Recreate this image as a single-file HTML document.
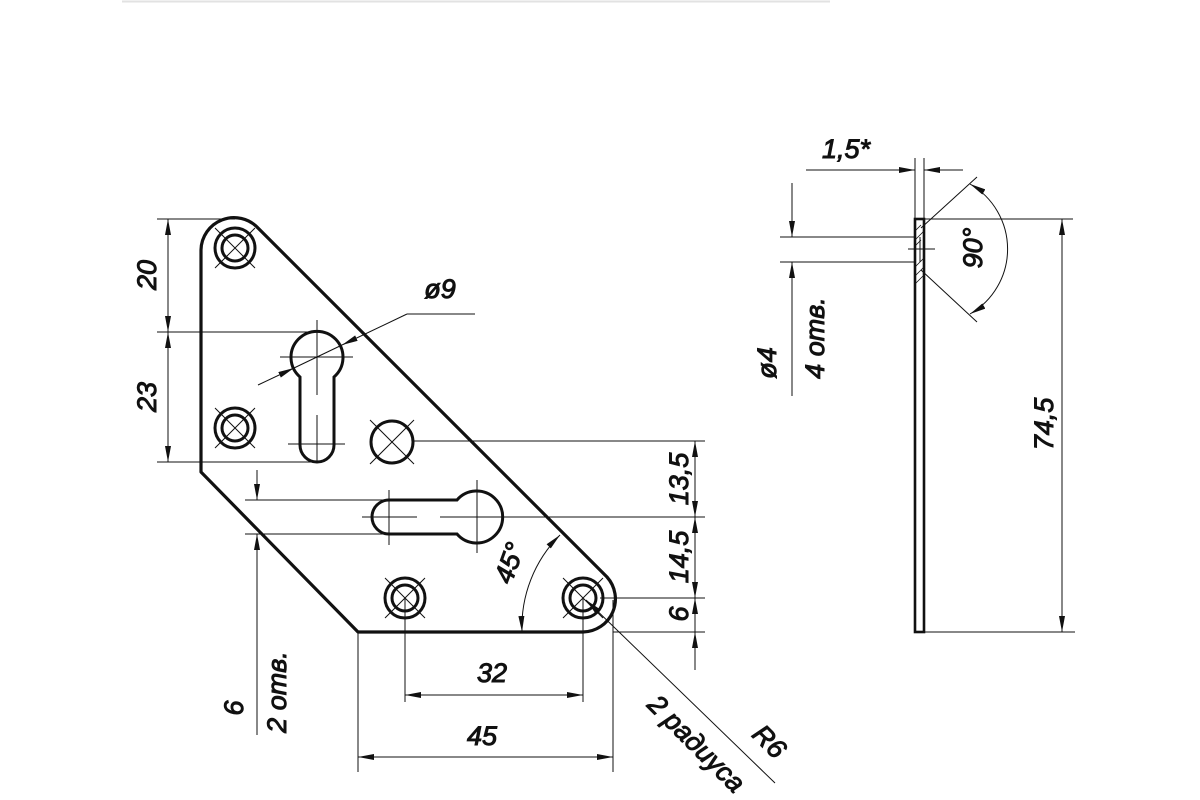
<!DOCTYPE html>
<html><head><meta charset="utf-8"><style>
html,body{margin:0;padding:0;background:#fff;}
svg{display:block}
text{font-family:"Liberation Sans","DejaVu Sans",sans-serif;font-style:italic;font-size:27px;fill:#111;}
</style></head><body>
<svg width="1200" height="800" viewBox="0 0 1200 800" xmlns="http://www.w3.org/2000/svg">
<defs>
<marker id="a" viewBox="0 0 16 6" refX="16" refY="3" markerWidth="16" markerHeight="6" markerUnits="userSpaceOnUse" orient="auto-start-reverse">
<path d="M0,0 L16,3 L0,6 Z" fill="#111"/></marker>
</defs>
<line x1="122" y1="1.5" x2="830" y2="1.5" stroke="#e2e2e2" stroke-width="2"/>
<g fill="none" stroke="#111">
<!-- plate outline -->
<path d="M201,250 A33,33 0 0 1 258,228 L607,577 A33,33 0 0 1 583,632 L358,632 L201,472 Z" stroke-width="3.2" stroke-linejoin="round"/>
<!-- keyholes -->
<path d="M300,377 A26,26 0 1 1 334,377 L334,445 A17,17 0 0 1 300,445 Z" stroke-width="3"/>
<path d="M457,500 A26,26 0 1 1 457,534 L389,534 A17,17 0 0 1 389,500 Z" stroke-width="3"/>
<!-- countersunk holes -->
<g stroke-width="3">
<circle cx="235" cy="248" r="20"/><circle cx="235" cy="248" r="13"/>
<circle cx="235" cy="428" r="20"/><circle cx="235" cy="428" r="13"/>
<circle cx="405" cy="598" r="20"/><circle cx="405" cy="598" r="13"/>
<circle cx="583" cy="598" r="20"/><circle cx="583" cy="598" r="13"/>
<circle cx="392" cy="442" r="21"/>
</g>
<g stroke-width="1">
<path d="M215,228 l40,40 M255,228 l-40,40"/>
<path d="M215,408 l40,40 M255,408 l-40,40"/>
<path d="M385,578 l40,40 M425,578 l-40,40"/>
<path d="M563,578 l40,40 M603,578 l-40,40"/>
<path d="M370,420 l44,44 M414,420 l-44,44"/>
<!-- keyhole centerlines -->
<path d="M317,320 V395 M317,415 V463 M280,357 H353 M288,444 H345"/>
<path d="M389,490 V545 M477,480 V553 M362,517 H417 M440,517 H705"/>
<!-- left dims 20 / 23 -->
<path d="M157,219 H235 M157,332 H317 M157,462 H317"/>
<line x1="168" y1="219" x2="168" y2="332" marker-start="url(#a)" marker-end="url(#a)"/>
<line x1="168" y1="332" x2="168" y2="462" marker-start="url(#a)" marker-end="url(#a)"/>
<!-- 6 / 2 отв -->
<path d="M245,500 H389 M245,534 H389"/>
<line x1="257" y1="470" x2="257" y2="500" marker-end="url(#a)"/>
<line x1="257" y1="735" x2="257" y2="534" marker-end="url(#a)"/>
<!-- right dims -->
<path d="M413,441 H705 M600,598 H705 M613,632 H705"/>
<line x1="695" y1="441" x2="695" y2="517" marker-start="url(#a)" marker-end="url(#a)"/>
<line x1="695" y1="517" x2="695" y2="598" marker-start="url(#a)" marker-end="url(#a)"/>
<line x1="695" y1="598" x2="695" y2="632" marker-start="url(#a)"/>
<line x1="695" y1="670" x2="695" y2="632" marker-end="url(#a)"/>
<!-- bottom dims -->
<path d="M358,632 V772 M405,598 V702 M583,598 V702 M613,600 V772"/>
<line x1="405" y1="695" x2="583" y2="695" marker-start="url(#a)" marker-end="url(#a)"/>
<line x1="358" y1="757" x2="613" y2="757" marker-start="url(#a)" marker-end="url(#a)"/>
<!-- phi9 leader -->
<line x1="258" y1="385" x2="294" y2="368" marker-end="url(#a)"/>
<line x1="407" y1="314" x2="342" y2="345" marker-end="url(#a)"/>
<path d="M294,368 L342,345 M407,314 H475"/>
<!-- 45 deg arc -->
<path d="M560,535 A130,130 0 0 0 522,632" marker-start="url(#a)" marker-end="url(#a)"/>
<!-- R6 leader -->
<line x1="775" y1="783" x2="586" y2="600" marker-end="url(#a)"/>
<!-- side view -->
<rect x="915" y="219" width="9" height="413" stroke-width="2.6"/>
<path d="M915,231 l6,-6 M915,240 l9,-9 M915,246 l6,-6 M915,267 l9,-9 M915,276 l9,-9 M915,284 l8,-8" stroke-width="0.8"/>
<path d="M915,237 V262 M920,237 V262" stroke-width="1"/>
<path d="M908,249 H935"/>
<path d="M915,158 V219 M924,158 V219"/>
<line x1="806" y1="170" x2="915" y2="170" marker-end="url(#a)"/>
<line x1="963" y1="170" x2="924" y2="170" marker-end="url(#a)"/>
<path d="M921,228 L977,177 M921,270 L977,322"/>
<path d="M970,184 A75,75 0 0 1 970,314" marker-start="url(#a)" marker-end="url(#a)"/>
<path d="M780,237 H915 M780,262 H915"/>
<line x1="792" y1="183" x2="792" y2="237" marker-end="url(#a)"/>
<line x1="792" y1="396" x2="792" y2="262" marker-end="url(#a)"/>
<path d="M924,219 H1073 M924,632 H1075"/>
<line x1="1062" y1="219" x2="1062" y2="632" marker-start="url(#a)" marker-end="url(#a)"/>
</g>
<!-- texts -->
<text transform="translate(156,275) rotate(-90)" text-anchor="middle">20</text>
<text transform="translate(156,397) rotate(-90)" text-anchor="middle">23</text>
<text x="440" y="298" text-anchor="middle">ø9</text>
<text transform="translate(243,708) rotate(-90)" text-anchor="middle">6</text>
<text transform="translate(286,692) rotate(-90)" text-anchor="middle">2 отв.</text>
<text transform="translate(688,479) rotate(-90)" text-anchor="middle">13,5</text>
<text transform="translate(688,557) rotate(-90)" text-anchor="middle">14,5</text>
<text transform="translate(688,614) rotate(-90)" text-anchor="middle">6</text>
<text x="492" y="682" text-anchor="middle">32</text>
<text x="482" y="745" text-anchor="middle">45</text>
<text transform="translate(518,566) rotate(-70)" text-anchor="middle">45°</text>
<text transform="translate(690,750) rotate(45)" text-anchor="middle">2 радиуса</text>
<text transform="translate(763,748) rotate(45)" text-anchor="middle">R6</text>
<text x="846" y="158" text-anchor="middle">1,5*</text>
<text transform="translate(982,248) rotate(-90)" text-anchor="middle">90°</text>
<text transform="translate(776,363) rotate(-90)" text-anchor="middle">ø4</text>
<text transform="translate(824,338) rotate(-90)" text-anchor="middle">4 отв.</text>
<text transform="translate(1053,424) rotate(-90)" text-anchor="middle">74,5</text>
</svg>
</body></html>
